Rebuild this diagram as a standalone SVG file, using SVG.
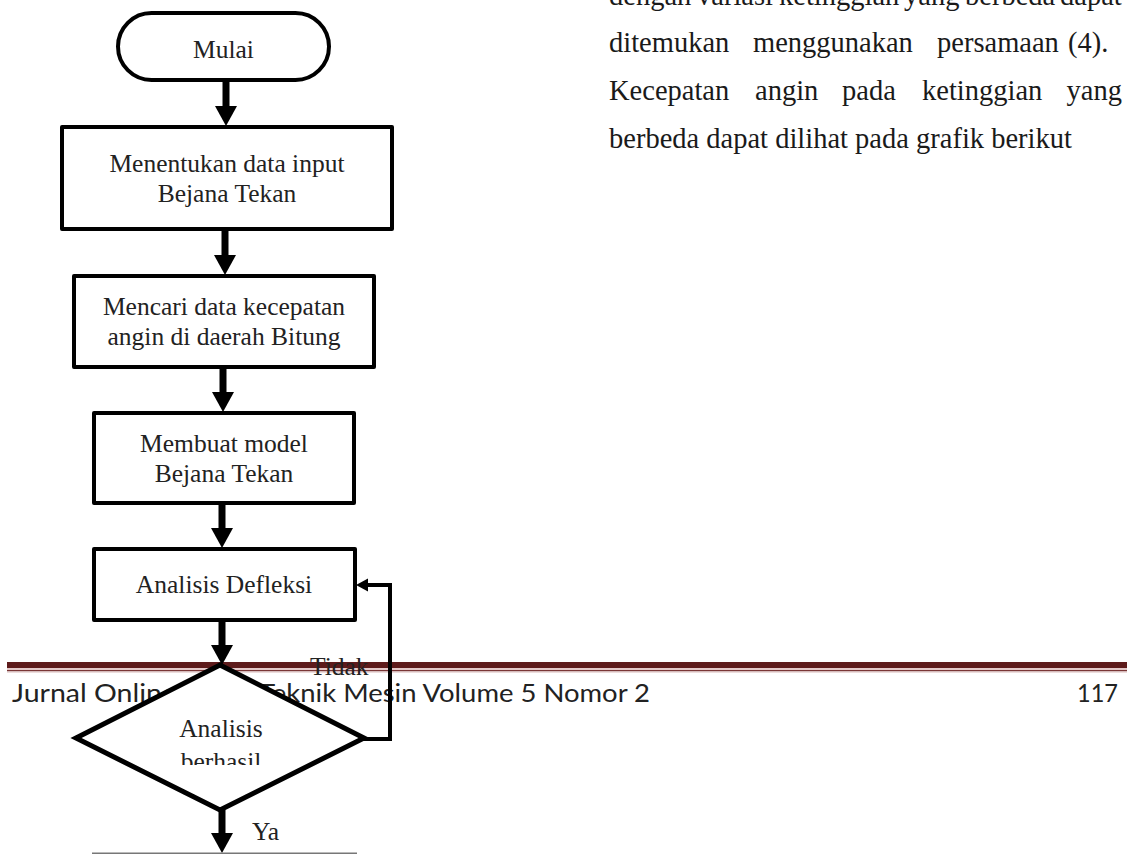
<svg xmlns="http://www.w3.org/2000/svg" width="1127" height="854" viewBox="0 0 1127 854">
<style>
.para{font-family:"Liberation Serif","Times New Roman",serif;font-size:28.5px;fill:#1a1a1a}
.lbl{font-family:"Liberation Serif","Times New Roman",serif;font-size:25.5px;fill:#222;text-anchor:middle}
.lbl2{font-family:"Liberation Serif","Times New Roman",serif;font-size:25.5px;fill:#222}
.foot{font-family:Lato,"Open Sans",sans-serif;font-size:25px;fill:#222}
.box{fill:#fff;stroke:#000;stroke-width:4;stroke-linejoin:round}
.flow{fill:none;stroke:#000;stroke-width:7}
.loop{fill:none;stroke:#000;stroke-width:4}
</style>
<defs>
<marker id="ah" markerUnits="userSpaceOnUse" markerWidth="22" markerHeight="22" refX="10" refY="11" orient="auto"><path d="M0,0 L20,11 L0,22 z" fill="#000"/></marker>
<marker id="ahs" markerUnits="userSpaceOnUse" markerWidth="14" markerHeight="14" refX="6" refY="6.5" orient="auto"><path d="M0,0 L12,6.5 L0,13 z" fill="#000"/></marker>
<clipPath id="clipB"><rect x="150" y="700" width="150" height="65"/></clipPath>
</defs>
<rect width="1127" height="854" fill="#fff"/>

<g id="paragraph">
<text class="para" y="4.5"><tspan x="609">dengan</tspan><tspan x="697">variasi</tspan><tspan x="779">ketinggian</tspan><tspan x="904">yang</tspan><tspan x="965">berbeda</tspan><tspan x="1060">dapat</tspan></text>
<text class="para" y="52"><tspan x="609">ditemukan</tspan><tspan x="753">menggunakan</tspan><tspan x="937">persamaan</tspan><tspan x="1068">(4).</tspan></text>
<text class="para" y="100"><tspan x="609">Kecepatan</tspan><tspan x="755">angin</tspan><tspan x="842">pada</tspan><tspan x="922">ketinggian</tspan></text>
<text class="para" x="1122" y="100" text-anchor="end">yang</text>
<text class="para" x="609" y="148">berbeda dapat dilihat pada grafik berikut</text>
</g>

<g id="footer">
<rect x="7" y="662" width="1120" height="6" fill="#5e1b1b"/>
<rect x="7" y="668" width="1120" height="2" fill="#e4c8c8"/>
<rect x="7" y="670" width="1120" height="1.5" fill="#7a3636"/>
<rect x="7" y="671.5" width="1120" height="1.5" fill="#ecdcdc"/>
<text class="foot" x="12" y="702" textLength="165" lengthAdjust="spacingAndGlyphs">Jurnal Online</text>
<text class="foot" x="259" y="702" textLength="391" lengthAdjust="spacingAndGlyphs">Teknik Mesin Volume 5 Nomor 2</text>
<text class="foot" x="1077" y="702" textLength="41" lengthAdjust="spacingAndGlyphs">117</text>
</g>

<g id="connectors">
<line class="flow" x1="226" y1="81" x2="226" y2="116" marker-end="url(#ah)"/>
<line class="flow" x1="225" y1="229" x2="225" y2="265" marker-end="url(#ah)"/>
<line class="flow" x1="223" y1="367" x2="223" y2="402" marker-end="url(#ah)"/>
<line class="flow" x1="222" y1="503" x2="222" y2="538" marker-end="url(#ah)"/>
<line class="flow" x1="222" y1="620" x2="222" y2="655" marker-end="url(#ah)"/>
<line class="flow" x1="222" y1="810" x2="222" y2="843" marker-end="url(#ah)"/>
<path class="loop" d="M362,739 H390 V585 H362" marker-end="url(#ahs)"/>
</g>

<g id="n-mulai">
<rect class="box" x="118" y="13" width="211" height="67" rx="33.5"/>
<text class="lbl" x="223.5" y="58">Mulai</text>
</g>
<g id="n-input">
<rect class="box" x="62" y="127" width="330" height="102"/>
<text class="lbl" x="227" y="172">Menentukan data input</text>
<text class="lbl" x="227" y="202">Bejana Tekan</text>
</g>
<g id="n-angin">
<rect class="box" x="74" y="276" width="300" height="91"/>
<text class="lbl" x="224" y="315">Mencari data kecepatan</text>
<text class="lbl" x="224" y="345">angin di daerah Bitung</text>
</g>
<g id="n-model">
<rect class="box" x="94" y="413" width="260" height="90"/>
<text class="lbl" x="224" y="452">Membuat model</text>
<text class="lbl" x="224" y="482">Bejana Tekan</text>
</g>
<g id="n-defleksi">
<rect class="box" x="94" y="549" width="261" height="71"/>
<text class="lbl" x="224" y="593">Analisis Defleksi</text>
</g>
<g id="n-decision">
<polygon points="220,665 364,738 220,810 76,738" fill="#fff" stroke="#000" stroke-width="5" stroke-linejoin="miter"/>
<text class="lbl" x="221" y="737">Analisis</text>
<text class="lbl" x="221" y="770" clip-path="url(#clipB)">berhasil</text>
</g>
<g id="labels">
<text class="lbl2" x="310" y="675">Tidak</text>
<text class="lbl2" x="252" y="840">Ya</text>
</g>
<g id="n-next">
<line x1="92" y1="853.5" x2="357" y2="853.5" stroke="#777" stroke-width="2"/>
</g>
</svg>
